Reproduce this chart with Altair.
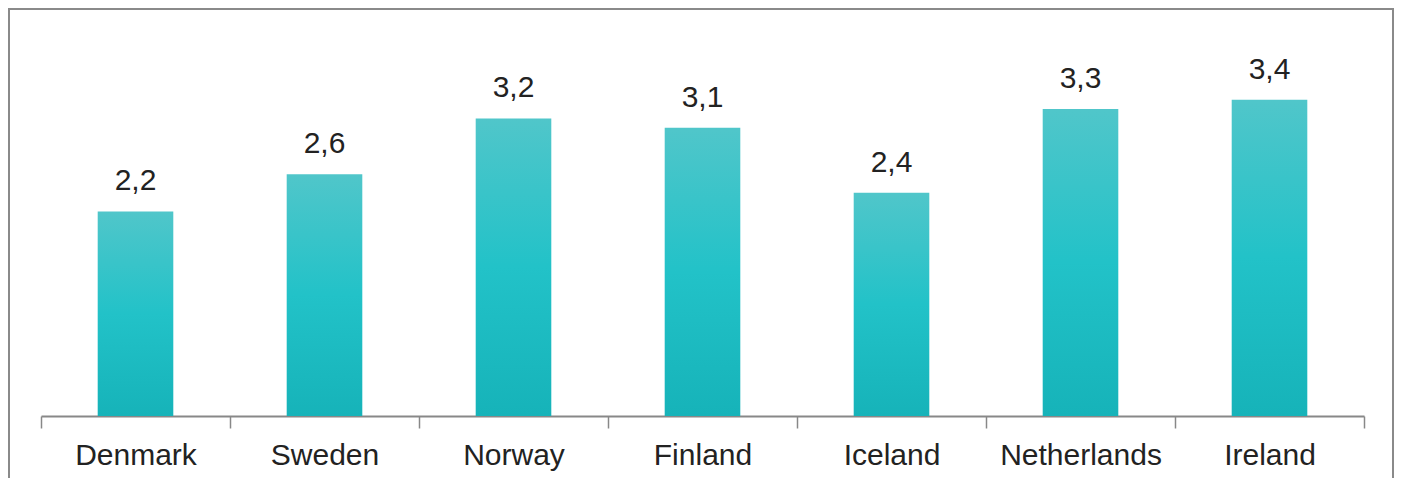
import altair as alt
import pandas as pd

countries = ["Denmark", "Sweden", "Norway", "Finland", "Iceland", "Netherlands", "Ireland"]
values = [2.2, 2.6, 3.2, 3.1, 2.4, 3.3, 3.4]
labels = ["2,2", "2,6", "3,2", "3,1", "2,4", "3,3", "3,4"]

df = pd.DataFrame({"country": countries, "value": values, "label": labels})

W, H = 1323, 372

x = alt.X("country:N", sort=countries, title=None,
          scale=alt.Scale(paddingInner=0, paddingOuter=0),
          axis=alt.Axis(labelAngle=0, labelFont="Liberation Sans", labelFontSize=30,
                        labelColor="#222222", labelBaseline="alphabetic",
                        labelPadding=36, tickSize=12, tickBand="extent",
                        tickColor="#888888", tickWidth=1.5,
                        domainColor="#888888", domainWidth=2, grid=False))
y = alt.Y("value:Q", title=None, scale=alt.Scale(domain=[0, 4]), axis=None)

grad = alt.Gradient(gradient="linear", x1=0, y1=0, x2=0, y2=1,
                    stops=[alt.GradientStop(color="#50c6ca", offset=0),
                           alt.GradientStop(color="#22c2c8", offset=0.5),
                           alt.GradientStop(color="#16b3b9", offset=1)])

bars = alt.Chart(df).mark_bar(fill=grad, width=alt.RelativeBandSize(0.4)).encode(x=x, y=y)
text = alt.Chart(df).mark_text(font="Liberation Sans", fontSize=30, color="#222222",
                               baseline="alphabetic", dy=-21).encode(x=x, y=y, text="label:N")

frame = alt.Chart(df).mark_rect(fill=None, stroke="#8a8a8a", strokeWidth=2).encode(
    x=alt.value(-32), x2=alt.value(1352), y=alt.value(-35), y2=alt.value(452))

chart = alt.layer(frame, bars, text).properties(
    width=W, height=H,
    autosize=alt.AutoSizeParams(type="none"),
    padding={"left": 33, "top": 36, "right": 30, "bottom": 62},
).configure_view(stroke=None)

chart.save("out.html", embed_options={"renderer": "svg", "actions": False})
